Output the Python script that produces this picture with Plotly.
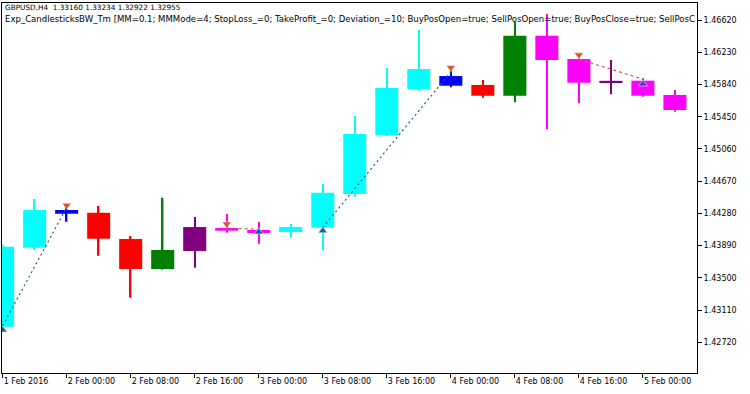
import numpy as np
import plotly.graph_objects as go

# ---- data (H4 bars) ----
bar_idx = list(range(22))
opens  = [1.42909, 1.43865, 1.44321, 1.44288, 1.43970, 1.43607, 1.43825, 1.44103, 1.44079, 1.44055, 1.44107,
          1.44515, 1.45229, 1.45781, 1.45942, 1.45834, 1.45704, 1.46430, 1.46148, 1.45858, 1.45886, 1.45713]
highs  = [1.43900, 1.44454, 1.44357, 1.44369, 1.44006, 1.44470, 1.44236, 1.44273, 1.44176, 1.44152, 1.44636,
          1.45458, 1.46039, 1.46499, 1.46030, 1.45894, 1.46596, 1.46693, 1.46166, 1.46136, 1.45915, 1.45773]
lows   = [1.42880, 1.43837, 1.44179, 1.43768, 1.43260, 1.43600, 1.43623, 1.44046, 1.43913, 1.43986, 1.43837,
          1.44482, 1.45216, 1.45765, 1.45806, 1.45680, 1.45624, 1.45298, 1.45612, 1.45721, 1.45692, 1.45510]
closes = [1.43877, 1.44321, 1.44276, 1.43974, 1.43607, 1.43837, 1.44115, 1.44071, 1.44055, 1.44115, 1.44530,
          1.45241, 1.45797, 1.46027, 1.45825, 1.45704, 1.46430, 1.46136, 1.45861, 1.45884, 1.45704, 1.45531]
candle_colors = ["#00FFFF", "#00FFFF", "#0000FF", "#FF0000", "#FF0000", "#008000", "#800080", "#FF00FF",
                 "#FF00FF", "#00FFFF", "#00FFFF", "#00FFFF", "#00FFFF", "#00FFFF", "#0000FF", "#FF0000",
                 "#008000", "#FF00FF", "#FF00FF", "#800080", "#FF00FF", "#FF00FF"]

tick_idx = [0, 2, 4, 6, 8, 10, 12, 14, 16, 18, 20]
tick_labels = ["1 Feb 2016", "2 Feb 00:00", "2 Feb 08:00", "2 Feb 16:00", "3 Feb 00:00", "3 Feb 08:00",
               "3 Feb 16:00", "4 Feb 00:00", "4 Feb 08:00", "4 Feb 16:00", "5 Feb 00:00"]
price_ticks = [1.42720, 1.43110, 1.43500, 1.43890, 1.44280, 1.44670, 1.45060, 1.45450, 1.45840, 1.46230, 1.46620]

# trades
buy_trades = [([0, 2], [1.42920, 1.44354]), ([10, 14], [1.44109, 1.45991])]
sell_trades = [([7, 8], [1.44103, 1.44088]), ([18, 20], [1.46144, 1.45906])]
sell_arrow_x = [2, 7, 14, 18]
sell_arrow_y = [1.44378, 1.44152, 1.46045, 1.46199]
buy_arrow_x = [0, 8, 10, 20]
buy_arrow_y = [1.42869, 1.44055, 1.44069, 1.45846]

header1 = "GBPUSD,H4\u00a0 1.33160 1.33234 1.32922 1.32955"
header2 = ("Exp_CandlesticksBW_Tm [MM=0.1; MMMode=4; StopLoss_=0; TakeProfit_=0; Deviation_=10; "
           "BuyPosOpen=true; SellPosOpen=true; BuyPosClose=true; SellPosC")

FONT = "DejaVu Sans"

o = np.array(opens); c = np.array(closes); h = np.array(highs); l = np.array(lows)

fig = go.Figure()
# wicks
fig.add_trace(go.Bar(x=bar_idx, y=h - l, base=l, width=0.045,
                     marker=dict(color=candle_colors, line=dict(width=0)), hoverinfo="skip"))
# bodies
fig.add_trace(go.Bar(x=bar_idx, y=np.abs(c - o), base=np.minimum(o, c), width=0.72,
                     marker=dict(color=candle_colors, line=dict(width=0)), hoverinfo="skip"))

for xs, ys in buy_trades:
    fig.add_trace(go.Scatter(x=xs, y=ys, mode="lines",
                             line=dict(color="#1E5C96", width=1.2, dash="2px,3px"), hoverinfo="skip"))
for xs, ys in sell_trades:
    fig.add_trace(go.Scatter(x=xs, y=ys, mode="lines",
                             line=dict(color="#C8643C", width=1.2, dash="3px,3px"), hoverinfo="skip"))

fig.add_trace(go.Scatter(x=sell_arrow_x, y=sell_arrow_y, mode="markers",
                         marker=dict(symbol="triangle-down", size=8, color="#E0502A",
                                     line=dict(color="white", width=0.5)), hoverinfo="skip"))
fig.add_trace(go.Scatter(x=buy_arrow_x, y=buy_arrow_y, mode="markers",
                         marker=dict(symbol="triangle-up", size=8, color="#1C5C9C",
                                     line=dict(color="white", width=0.5)), hoverinfo="skip"))

fig.update_layout(
    width=750, height=394,
    margin=dict(l=2, r=53, t=3, b=21),
    paper_bgcolor="white", plot_bgcolor="white",
    barmode="overlay", showlegend=False,
    font=dict(family=FONT, size=8, color="black"),
    xaxis=dict(range=[-0.02, 21.69], tickvals=tick_idx, ticktext=tick_labels,
               ticks="outside", ticklen=4, tickcolor="black", tickwidth=1,
               ticklabelposition="outside right",
               showline=True, mirror=True, linecolor="black", linewidth=1,
               showgrid=False, zeroline=False, fixedrange=True,
               tickfont=dict(family=FONT, size=8, color="black")),
    yaxis=dict(range=[1.42349, 1.46826], side="right", tickvals=price_ticks,
               ticktext=[f"{v:.5f}" for v in price_ticks],
               ticks="outside", ticklen=4, tickcolor="black", tickwidth=1,
               showline=True, mirror=True, linecolor="black", linewidth=1,
               showgrid=False, zeroline=False, fixedrange=True,
               tickfont=dict(family=FONT, size=8, color="black")),
    annotations=[
        dict(text=header1, xref="paper", yref="paper", x=0, y=1, xanchor="left", yanchor="middle",
             xshift=1, yshift=-4, showarrow=False, font=dict(family=FONT, size=7.3, color="black")),
        dict(text=header2, xref="paper", yref="paper", x=0, y=1, xanchor="left", yanchor="middle",
             xshift=1, yshift=-16, showarrow=False, font=dict(family=FONT, size=8.55, color="black")),
    ],
)

fig.write_html("out.html")
